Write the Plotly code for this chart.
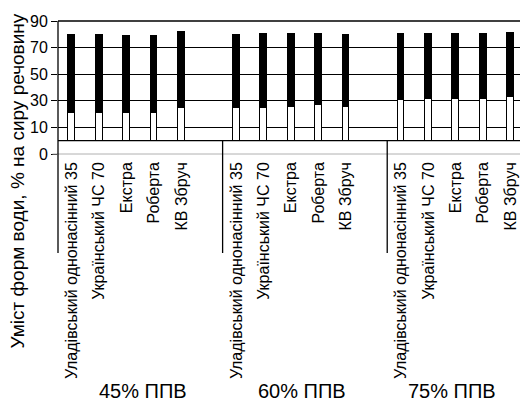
import plotly.graph_objects as go

# ---- data ----
varieties = ["Уладівський однонасінний 35", "Український ЧС 70", "Екстра", "Роберта", "КВ Збруч"]
groups = ["45% ППВ", "60% ППВ", "75% ППВ"]
# lower (white) segment per group
bound_water = [
    [21.2, 20.5, 21.2, 21.2, 24.5],
    [24.5, 24.5, 25.5, 27.2, 25.3],
    [30.5, 31.2, 31.5, 31.5, 32.6],
]
# total height per bar
total_water = [
    [79.5, 79.5, 78.5, 78.5, 81.8],
    [79.5, 80.5, 80.5, 80.5, 79.5],
    [80.5, 80.5, 80.5, 80.4, 81.2],
]
y_tick_vals = [-10, 10, 30, 50, 70, 90]
y_tick_text = ["0", "10", "30", "50", "70", "90"]
y_title = "Уміст форм води, % на сиру речовину"

# ---- layout constants ----
W, H = 520, 404
ML, MR, MT, MB = 58, 0, 21, 250
SLOTS_PER_GROUP = 6
X_RANGE = [-0.5, 16.34]
Y_RANGE = [-10, 90]
FONT = "Liberation Sans, Arial, sans-serif"

xs, lower, upper, ticktext = [], [], [], []
for g, _ in enumerate(groups):
    for i, v in enumerate(varieties):
        xs.append(g * SLOTS_PER_GROUP + i)
        lower.append(bound_water[g][i])
        upper.append(total_water[g][i] - bound_water[g][i])
        ticktext.append(v)

fig = go.Figure()
fig.add_trace(go.Bar(x=xs, y=lower, width=0.25, marker=dict(color="white", line=dict(color="black", width=1)), showlegend=False))
fig.add_trace(go.Bar(x=xs, y=upper, width=0.25, marker=dict(color="black", line=dict(color="black", width=1)), showlegend=False))

span_x = X_RANGE[1] - X_RANGE[0]
span_y = Y_RANGE[1] - Y_RANGE[0]
plot_h = H - MT - MB
plot_w = W - ML - MR

def xdom(v):
    return (v - X_RANGE[0]) / span_x

def ydom(v):
    return (v - Y_RANGE[0]) / span_y

bottom_ext = -(253 - (H - MB)) / plot_h  # lines extend below plot

shapes = []
# gray line at the "0" tick (plot bottom)
shapes.append(dict(type="line", xref="paper", yref="paper", x0=-0.012, x1=1, y0=0, y1=0,
                   line=dict(color="#b0b0b0", width=1), layer="above"))
# box bottom (value 0)
shapes.append(dict(type="line", xref="x domain", yref="y domain", x0=0, x1=1, y0=ydom(0), y1=ydom(0),
                   line=dict(color="black", width=1.3), layer="above"))
# top border
shapes.append(dict(type="line", xref="x domain", yref="y domain", x0=0, x1=1, y0=1, y1=1,
                   line=dict(color="black", width=1.3), layer="above"))
# left axis line
shapes.append(dict(type="line", xref="x domain", yref="y domain", x0=0, x1=0, y0=1, y1=bottom_ext,
                   line=dict(color="black", width=1.3), layer="above"))
# group separators
for g in range(1, len(groups)):
    sx = xdom(g * SLOTS_PER_GROUP - 0.5)
    shapes.append(dict(type="line", xref="x domain", yref="y domain", x0=sx, x1=sx, y0=ydom(0), y1=bottom_ext,
                       line=dict(color="black", width=1.3), layer="above"))

label_x = [2.6, 8.4, 13.85]
annotations = []
for g, name in enumerate(groups):
    annotations.append(dict(text=name, xref="x", yref="paper", x=label_x[g],
                            y=-(391 - (H - MB)) / plot_h, xanchor="center", yanchor="middle",
                            showarrow=False, font=dict(size=20, color="black", family=FONT)))
annotations.append(dict(text=y_title, xref="paper", yref="paper", x=(17 - ML) / plot_w,
                        y=-(181.5 - (H - MB)) / plot_h, textangle=-90, xanchor="center", yanchor="middle",
                        showarrow=False, font=dict(size=19, color="black", family=FONT)))

fig.update_layout(
    width=W, height=H, margin=dict(l=ML, r=MR, t=MT, b=MB, pad=0),
    barmode="stack", bargap=0, plot_bgcolor="white", paper_bgcolor="white",
    font=dict(family=FONT, color="black"),
    shapes=shapes, annotations=annotations,
    xaxis=dict(range=X_RANGE, tickmode="array", tickvals=xs, ticktext=ticktext, tickangle=-90,
               ticks="", showgrid=False, zeroline=False, showline=False,
               tickfont=dict(size=16, family=FONT, color="black"), ticklabelstandoff=4),
    yaxis=dict(range=Y_RANGE, tickmode="array", tickvals=y_tick_vals, ticktext=y_tick_text,
               ticks="outside", ticklen=6, tickcolor="black", showgrid=True, gridcolor="black", gridwidth=1,
               zeroline=False, showline=False, tickfont=dict(size=16, family=FONT, color="black")),
)

fig.write_html("out.html", config={"displayModeBar": False},
               post_script="document.body.style.margin='0';document.body.style.overflow='hidden';")
